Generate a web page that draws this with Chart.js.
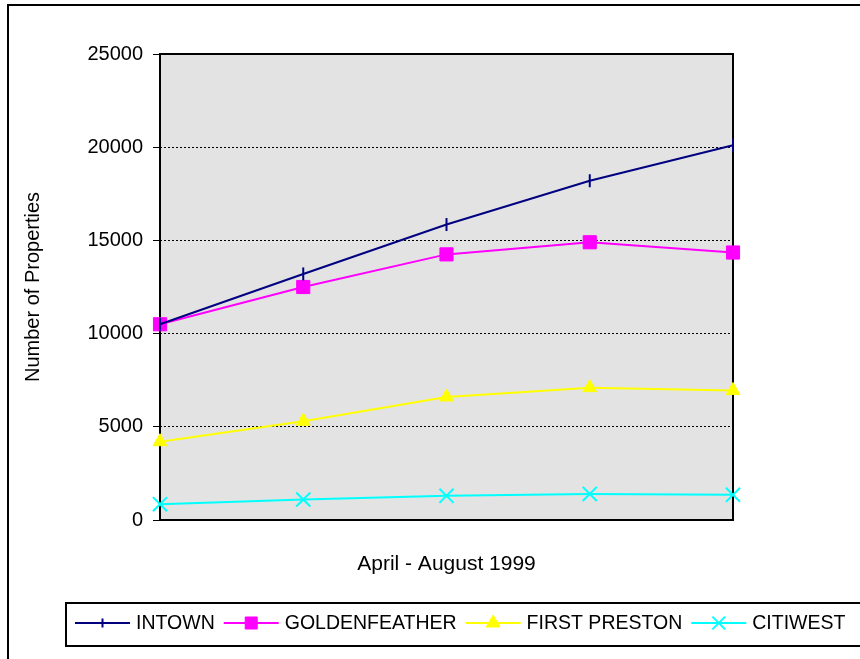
<!DOCTYPE html>
<html>
<head>
<meta charset="utf-8">
<title>Number of Properties, April - August 1999</title>
<script src="https://cdn.jsdelivr.net/npm/chart.js@4/dist/chart.umd.min.js"></script>
<style>
    html, body { margin: 0; padding: 0; background: #fff; }
    #wrap { width: 860px; height: 659px; }
</style>
</head>
<body>
<div id="wrap"><canvas id="chart" width="860" height="659"></canvas></div>
<script>
    'use strict';

    // ── Data ──────────────────────────────────────────────────────────────────
    var MONTHS    = ['April', 'May', 'June', 'July', 'August'];
    var INTOWN    = [10500, 13200, 15850, 18200, 20100];
    var GOLDEN    = [10500, 12500, 14250, 14900, 14350];
    var PRESTON   = [4200, 5300, 6600, 7100, 6950];
    var CITIWEST  = [850, 1100, 1300, 1400, 1350];
    var Y_TICKS   = [0, 5000, 10000, 15000, 20000, 25000];

    var FONT = 'Liberation Sans, Arial, Helvetica, sans-serif';
    var PLOT_BG = '#e3e3e3';

    // ── Plugins: backgrounds, plot frame, legend box ──────────────────────────

    var frame = {
        id: 'frame',
        beforeDraw: function (chart) {
            var ctx = chart.ctx, a = chart.chartArea;
            ctx.save();
            ctx.fillStyle = '#fff';
            ctx.fillRect(0, 0, chart.width, chart.height);
            ctx.fillStyle = PLOT_BG;
            ctx.fillRect(a.left, a.top, a.right - a.left, a.bottom - a.top);
            ctx.restore();
        },
        beforeDatasetsDraw: function (chart) {
            var ctx = chart.ctx, a = chart.chartArea;
            ctx.save();
            ctx.strokeStyle = '#000';
            ctx.lineWidth = 2;
            ctx.strokeRect(a.left, a.top, a.right - a.left, a.bottom - a.top);
            ctx.restore();
        },
        afterDraw: function (chart) {
            var ctx = chart.ctx;
            ctx.save();
            // outer border of the whole picture (runs off right / bottom)
            ctx.strokeStyle = '#000';
            ctx.lineWidth = 2;
            ctx.strokeRect(8, 5, 900, 700);
            ctx.restore();
        }
    };

    // Legend drawn as one boxed row: line sample, marker, then label.
    var boxLegend = {
        id: 'boxLegend',
        afterDraw: function (chart) {
            var ctx = chart.ctx;
            var y = 623;
            var x = 75;
            ctx.save();
            ctx.strokeStyle = '#000';
            ctx.lineWidth = 2;
            ctx.strokeRect(66, 603, 860, 43);

            ctx.font = '19.5px ' + FONT;
            ctx.textBaseline = 'middle';
            ctx.textAlign = 'left';

            chart.data.datasets.forEach(function (ds) {
                ctx.strokeStyle = ds.borderColor;
                ctx.lineWidth = 2;
                ctx.beginPath();
                ctx.moveTo(x, y);
                ctx.lineTo(x + 55, y);
                ctx.stroke();

                ctx.fillStyle = ds.pointBackgroundColor;
                ctx.strokeStyle = ds.pointBorderColor;
                ctx.lineWidth = ds.pointBorderWidth;
                Chart.helpers.drawPoint(ctx, {
                    pointStyle: ds.pointStyle,
                    rotation: ds.pointRotation || 0,
                    radius: ds.legendRadius,
                    borderWidth: ds.pointBorderWidth
                }, x + 27.5, y);

                ctx.fillStyle = '#000';
                ctx.fillText(ds.label, x + 61, y + 1);
                x += 61 + ctx.measureText(ds.label).width + 9;
            });
            ctx.restore();
        }
    };

    // ── Series ────────────────────────────────────────────────────────────────

    function series(label, values, colour, style, radius, legendRadius, extra) {
        var ds = {
            label: label,
            data: values,
            borderColor: colour,
            backgroundColor: colour,
            borderWidth: 2,
            tension: 0,
            clip: false,
            pointStyle: style,
            pointRadius: radius,
            pointHoverRadius: radius,
            pointBackgroundColor: colour,
            pointBorderColor: colour,
            pointBorderWidth: 1,
            legendRadius: legendRadius
        };
        Object.keys(extra || {}).forEach(function (k) { ds[k] = extra[k]; });
        return ds;
    }

    var datasets = [
        series('INTOWN', INTOWN, '#000080', 'line', 6.5, 4.5, { pointRotation: 90, pointBorderWidth: 2 }),
        series('GOLDENFEATHER', GOLDEN, '#ff00ff', 'rect', 9.3, 8.5),
        series('FIRST PRESTON', PRESTON, '#ffff00', 'triangle', 8, 8),
        series('CITIWEST', CITIWEST, '#00ffff', 'crossRot', 10, 9, { pointBorderWidth: 2 })
    ];

    // ── Chart ─────────────────────────────────────────────────────────────────

    new Chart(document.getElementById('chart').getContext('2d'), {
        type: 'line',
        data: { labels: MONTHS, datasets: datasets },
        plugins: [frame, boxLegend],
        options: {
            responsive: false,
            animation: false,
            devicePixelRatio: 1,
            layout: { padding: { left: 0, top: 54, right: 127, bottom: 0 } },
            plugins: {
                legend: { display: false },
                tooltip: { enabled: false },
                title: { display: false }
            },
            scales: {
                x: {
                    type: 'category',
                    offset: false,
                    grid: { display: false },
                    border: { display: false },
                    ticks: { display: false },
                    title: {
                        display: true,
                        text: 'April - August 1999',
                        color: '#000',
                        font: { family: FONT, size: 21 },
                        padding: { top: 0, bottom: 82 }
                    },
                    afterFit: function (scale) { scale.height = 139; }
                },
                y: {
                    min: Y_TICKS[0],
                    max: Y_TICKS[Y_TICKS.length - 1],
                    afterBuildTicks: function (scale) {
                        scale.ticks = Y_TICKS.map(function (v) { return { value: v }; });
                    },
                    grid: {
                        color: '#000',
                        lineWidth: 1,
                        tickLength: 7,
                        drawOnChartArea: true
                    },
                    border: { display: false, dash: [2, 2] },
                    ticks: {
                        color: '#000',
                        padding: 10,
                        font: { family: FONT, size: 20 },
                        callback: function (v) { return String(v); }
                    },
                    title: {
                        display: true,
                        text: 'Number of Properties',
                        color: '#000',
                        font: { family: FONT, size: 20 },
                        padding: { top: 21, bottom: 0 }
                    },
                    afterFit: function (scale) { scale.width = 160; }
                }
            }
        }
    });
</script>
</body>
</html>
